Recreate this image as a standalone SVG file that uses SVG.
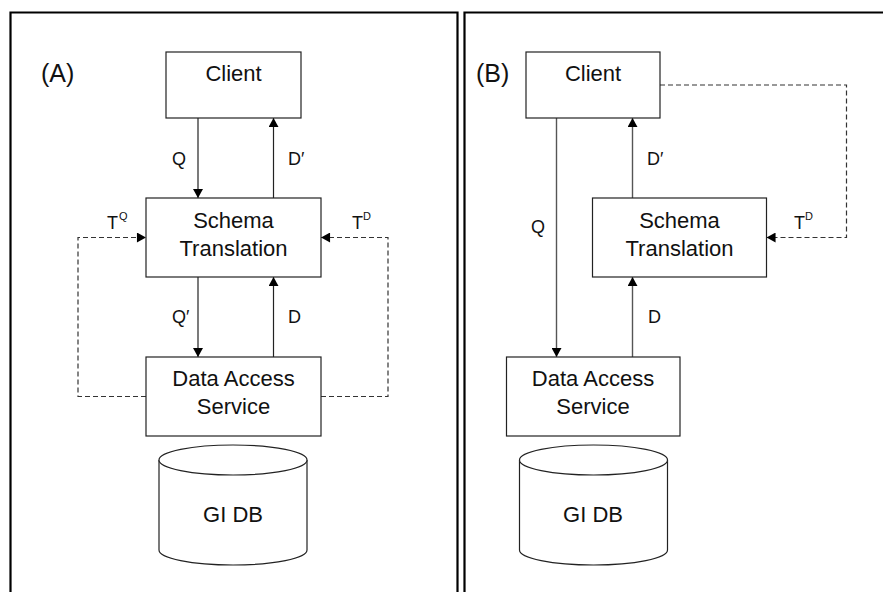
<svg xmlns="http://www.w3.org/2000/svg" width="883" height="592" viewBox="0 0 883 592">
  <style>
    .frame { fill: none; stroke: #000; stroke-width: 2.2; }
    .box { fill: #fff; stroke: #222; stroke-width: 1.2; }
    .db { fill: #fff; stroke: #222; stroke-width: 1.2; }
    .lbl { font-family: "Liberation Sans", Arial, sans-serif; font-size: 22px; fill: #111; text-anchor: middle; }
    .edge { font-family: "Liberation Sans", Arial, sans-serif; font-size: 18px; fill: #111; }
    .sup { font-family: "Liberation Sans", Arial, sans-serif; font-size: 11px; fill: #111; }
    .panel { font-family: "Liberation Sans", Arial, sans-serif; font-size: 25px; fill: #111; }
    .line { fill: none; stroke: #222; stroke-width: 1.2; }
    .lineB { fill: none; stroke: #555; stroke-width: 1.4; }
    .dash { fill: none; stroke: #333; stroke-width: 1.2; stroke-dasharray: 5 3; }
  </style>
  <defs>
    <marker id="arrow" viewBox="0 0 10 11" refX="10" refY="5.5" markerWidth="11" markerHeight="10" markerUnits="userSpaceOnUse" orient="auto">
      <path d="M0,0 L10,5.5 L0,11 Z" fill="#000"/>
    </marker>
  </defs>

  <!-- panel frames -->
  <g id="frames">
    <path class="frame" d="M10.5,592 V12.5 H457.5 V592"/>
    <path class="frame" d="M464.5,592 V12.5 H883"/>
  </g>

  <text class="panel" x="41" y="82">(A)</text>
  <text class="panel" x="476" y="82">(B)</text>

  <!-- connectors -->
  <g id="connectors">
    <!-- panel A -->
    <line class="line" x1="198" y1="118" x2="198" y2="198" marker-end="url(#arrow)"/>
    <line class="line" x1="273.5" y1="198" x2="273.5" y2="118" marker-end="url(#arrow)"/>
    <line class="line" x1="198" y1="277" x2="198" y2="357" marker-end="url(#arrow)"/>
    <line class="line" x1="273.5" y1="357" x2="273.5" y2="277" marker-end="url(#arrow)"/>
    <path class="dash" d="M146,396.5 H78 V237.5 H146" marker-end="url(#arrow)"/>
    <path class="dash" d="M321,396.5 H388 V237.5 H321" marker-end="url(#arrow)"/>
    <!-- panel B -->
    <line class="lineB" x1="556.5" y1="118" x2="556.5" y2="357" marker-end="url(#arrow)"/>
    <line class="lineB" x1="632.5" y1="198" x2="632.5" y2="118" marker-end="url(#arrow)"/>
    <line class="lineB" x1="632.5" y1="357" x2="632.5" y2="277" marker-end="url(#arrow)"/>
    <path class="dash" d="M660,85 H846.5 V237.5 H766.5" marker-end="url(#arrow)"/>
  </g>

  <!-- connector labels -->
  <g id="edge-labels">
    <text class="edge" x="172" y="165">Q</text>
    <text class="edge" x="288" y="165">D′</text>
    <text class="edge" x="172" y="323">Q′</text>
    <text class="edge" x="288" y="323">D</text>
    <text class="edge" x="107" y="229">T</text><text class="sup" x="119" y="220">Q</text>
    <text class="edge" x="352" y="229">T</text><text class="sup" x="363" y="220">D</text>
    <text class="edge" x="531" y="233">Q</text>
    <text class="edge" x="647" y="165">D′</text>
    <text class="edge" x="648" y="323">D</text>
    <text class="edge" x="794" y="229">T</text><text class="sup" x="805" y="220">D</text>
  </g>

  <!-- panel A nodes -->
  <g id="a-client">
    <rect class="box" x="166" y="52" width="135" height="66"/>
    <text class="lbl" x="233.5" y="81">Client</text>
  </g>
  <g id="a-schema">
    <rect class="box" x="146" y="198" width="175" height="79"/>
    <text class="lbl" x="233.5" y="228">Schema</text>
    <text class="lbl" x="233.5" y="256">Translation</text>
  </g>
  <g id="a-das">
    <rect class="box" x="146" y="357" width="175" height="79"/>
    <text class="lbl" x="233.5" y="386">Data Access</text>
    <text class="lbl" x="233.5" y="414">Service</text>
  </g>
  <g id="a-db">
    <path class="db" d="M159,460 V550 A74,15 0 0 0 307,550 V460"/>
    <ellipse class="db" cx="233" cy="460" rx="74" ry="15"/>
    <text class="lbl" x="233" y="522">GI DB</text>
  </g>

  <!-- panel B nodes -->
  <g id="b-client">
    <rect class="box" x="526" y="52" width="134" height="66"/>
    <text class="lbl" x="593" y="81">Client</text>
  </g>
  <g id="b-schema">
    <rect class="box" x="592.5" y="198" width="174" height="79"/>
    <text class="lbl" x="679.5" y="228">Schema</text>
    <text class="lbl" x="679.5" y="256">Translation</text>
  </g>
  <g id="b-das">
    <rect class="box" x="506.5" y="357" width="173.5" height="79"/>
    <text class="lbl" x="593" y="386">Data Access</text>
    <text class="lbl" x="593" y="414">Service</text>
  </g>
  <g id="b-db">
    <path class="db" d="M519.5,460 V550 A74,15 0 0 0 667.5,550 V460"/>
    <ellipse class="db" cx="593.5" cy="460" rx="74" ry="15"/>
    <text class="lbl" x="593" y="522">GI DB</text>
  </g>
</svg>
